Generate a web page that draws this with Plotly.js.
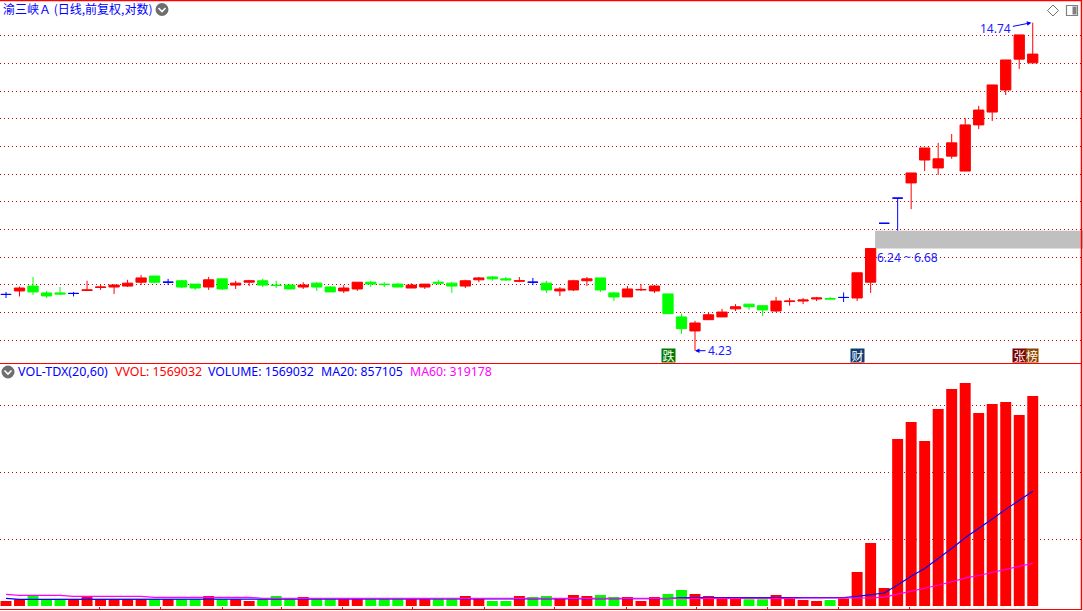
<!DOCTYPE html>
<html><head><meta charset="utf-8">
<style>html,body{margin:0;padding:0;background:#fff;overflow:hidden}#c{width:1083px;height:611px}</style>
<script src="https://cdn.plot.ly/plotly-3.0.1.min.js"></script></head>
<body><div id="c"></div>
<script>
const openP=[5.24,5.31,5.41,5.27,5.27,5.26,5.32,5.38,5.39,5.41,5.49,5.62,5.49,5.52,5.45,5.39,5.56,5.43,5.49,5.52,5.43,5.43,5.39,5.47,5.39,5.31,5.35,5.49,5.45,5.45,5.37,5.39,5.49,5.47,5.41,5.54,5.60,5.56,5.51,5.49,5.47,5.31,5.33,5.52,5.58,5.27,5.19,5.33,5.31,5.25,4.81,4.56,4.76,4.81,4.96,5.05,5.02,4.92,5.10,5.11,5.15,5.16,5.18,5.17,5.49,6.87,7.56,8.01,8.74,8.48,8.87,8.38,9.99,10.49,11.41,12.83,12.65];
const highP=[5.29,5.40,5.60,5.31,5.39,5.29,5.52,5.45,5.45,5.54,5.64,5.62,5.56,5.54,5.45,5.60,5.56,5.52,5.54,5.56,5.52,5.45,5.49,5.49,5.41,5.43,5.49,5.52,5.49,5.47,5.47,5.45,5.54,5.49,5.54,5.60,5.62,5.60,5.60,5.58,5.52,5.39,5.54,5.60,5.58,5.29,5.41,5.45,5.43,5.25,4.87,4.74,4.90,4.96,5.05,5.05,5.02,5.19,5.17,5.17,5.19,5.19,5.28,5.69,6.24,6.87,7.56,8.32,9.15,9.33,9.65,10.26,10.74,11.63,12.79,14.07,14.74];
const lowP=[5.17,5.20,5.23,5.17,5.23,5.20,5.31,5.33,5.25,5.39,5.43,5.47,5.43,5.37,5.33,5.33,5.33,5.35,5.41,5.39,5.37,5.35,5.35,5.31,5.29,5.27,5.31,5.39,5.39,5.39,5.37,5.35,5.43,5.27,5.37,5.49,5.52,5.52,5.49,5.43,5.27,5.21,5.31,5.41,5.29,5.11,5.19,5.31,5.27,4.87,4.51,4.23,4.76,4.81,4.92,4.94,4.83,4.90,5.02,5.05,5.11,5.15,5.09,5.11,5.27,6.87,6.68,7.25,8.38,8.26,8.78,8.38,9.83,10.14,11.19,12.36,12.65];
const closeP=[5.24,5.37,5.29,5.21,5.25,5.26,5.33,5.39,5.43,5.47,5.58,5.49,5.49,5.39,5.37,5.54,5.35,5.47,5.52,5.43,5.42,5.35,5.43,5.39,5.29,5.37,5.49,5.45,5.44,5.39,5.43,5.45,5.47,5.41,5.52,5.58,5.56,5.54,5.52,5.49,5.33,5.35,5.52,5.56,5.33,5.19,5.35,5.34,5.41,4.87,4.60,4.70,4.85,4.90,5.00,5.00,4.94,5.11,5.11,5.13,5.17,5.15,5.18,5.69,6.24,6.87,7.56,8.32,9.15,8.78,9.33,9.99,10.57,11.63,12.79,14.07,13.08];
const volume=[37000,50000,75000,50000,50000,50000,67000,50000,50000,50000,50000,50000,50000,50000,50000,75000,50000,50000,37000,50000,75000,50000,67000,50000,50000,50000,50000,50000,50000,50000,50000,50000,50000,50000,75000,55000,37000,37000,75000,67000,75000,52000,82000,75000,82000,67000,67000,37000,67000,90000,120000,90000,75000,55000,55000,50000,50000,82000,55000,45000,37000,45000,57000,254000,471000,134000,1248000,1375000,1233000,1472000,1621000,1666000,1442000,1509000,1524000,1427000,1569032];
const ma20=[57000,50000,50000,50000,50000,50000,50000,50000,50000,50000,50000,50000,50000,50000,50000,50000,50000,50000,50000,50000,50000,50000,50000,50000,50000,50000,50000,50000,50000,50000,50000,50000,50000,50000,50000,50000,52000,52000,52000,52000,52000,55000,55000,55000,55000,55000,55000,55000,55000,55000,62000,62000,62000,62000,62000,62000,62000,62000,62000,62000,62000,62000,62000,72000,87000,97000,157000,222000,280000,352000,430000,510000,578000,650000,722000,790000,857105];
const ma60=[87000,80000,80000,80000,80000,72000,72000,72000,72000,72000,72000,65000,65000,65000,65000,65000,65000,65000,65000,57000,57000,57000,57000,57000,57000,57000,57000,57000,57000,57000,57000,57000,57000,57000,57000,57000,52000,52000,52000,52000,52000,55000,55000,55000,55000,55000,55000,55000,55000,55000,55000,57000,57000,57000,57000,57000,57000,57000,57000,60000,60000,60000,60000,60000,60000,67000,88000,111000,131000,155000,181000,208000,228000,250000,275000,297000,319178];
const priceGrid=[14.05,12.63,11.35,10.24,9.21,8.28,7.47,6.71,6.04,5.45,4.90,4.40];
const volumeGrid=[500000,1000000,1500000];
const monthTicks=[6.9,11.4,16,20.4,24.9,30.1,35.4,40.6,45.9,51.1,56.4,61.6,66.9];
const titleText='渝三峡Ａ (日线,前复权,对数)';

const W=1083,H=611,RED='#ff0000',GREEN='#00ff00',BLUE='#0000ff',MAG='#ff00ff',TXT='#1c1cff',GRID='#c80000';
const idx=openP.map((_,i)=>i);
const px=x=>x/W, py=y=>1-y/H;
function candle(filter,color){
  const s=idx.filter(filter);
  return {type:'candlestick',x:s,open:s.map(i=>openP[i]),high:s.map(i=>highP[i]),low:s.map(i=>lowP[i]),close:s.map(i=>closeP[i]),
    xaxis:'x',yaxis:'y',hoverinfo:'skip',showlegend:false,
    increasing:{line:{color:color,width:1},fillcolor:color},decreasing:{line:{color:color,width:1},fillcolor:color}};
}
const volColor=idx.map(i=>closeP[i]>openP[i]?RED:closeP[i]<openP[i]?GREEN:(i===0||closeP[i]>=closeP[i-1])?RED:GREEN);
const traces=[
  candle(i=>closeP[i]>openP[i],RED),
  candle(i=>closeP[i]<openP[i],GREEN),
  candle(i=>closeP[i]===openP[i],BLUE),
  {type:'bar',x:idx,y:volume,width:0.81,marker:{color:volColor,line:{width:0}},xaxis:'x2',yaxis:'y2',hoverinfo:'skip',showlegend:false},
  {type:'scatter',mode:'lines',x:idx,y:ma20,line:{color:BLUE,width:1.2},xaxis:'x2',yaxis:'y2',hoverinfo:'skip',showlegend:false},
  {type:'scatter',mode:'lines',x:idx,y:ma60,line:{color:MAG,width:1.2},xaxis:'x2',yaxis:'y2',hoverinfo:'skip',showlegend:false}
];
const xr=[-0.444,79.72];
function txt(x,y,text,color,anchor,size,font){return {xref:'paper',yref:'paper',x:px(x),y:py(y),text:text,showarrow:false,xanchor:anchor||'left',yanchor:'middle',
  font:{family:font||'"Noto Sans","Noto Sans CJK SC",sans-serif',size:size||12,color:color},borderpad:0,borderwidth:0};}
function tag(x,y,w,text,bg){return {xref:'paper',yref:'paper',x:px(x),y:py(y),text:text,showarrow:false,xanchor:'left',yanchor:'middle',width:w,height:13,bgcolor:bg,borderpad:0,
  font:{family:'"Noto Sans CJK SC"',size:12,color:'#ffffff'},align:'center'};}
function line(x0,y0,x1,y1,c,w){return {type:'line',xref:'paper',yref:'paper',x0:px(x0),y0:py(y0),x1:px(x1),y1:py(y1),line:{color:c,width:w||1}};}
function chevIcon(cx,cy){return [
  {type:'circle',xref:'paper',yref:'paper',x0:px(cx-6.5),x1:px(cx+6.5),y0:py(cy+6.5),y1:py(cy-6.5),fillcolor:'#6e6e6e',line:{width:0}},
  {type:'path',xref:'paper',yref:'paper',path:`M ${px(cx-3.5)} ${py(cy-1.5)} L ${px(cx)} ${py(cy+2)} L ${px(cx+3.5)} ${py(cy-1.5)}`,line:{color:'#ffffff',width:1.6}}
];}
const shapes=[
  {type:'rect',xref:'x',yref:'y',x0:64.33,x1:xr[1],y0:6.24,y1:6.68,fillcolor:'#c0c0c0',line:{width:0},layer:'below'},
  line(0,0.5,1082,0.5,RED,1.5),
  line(0,363.5,1082,363.5,RED,1),
  line(0,609.5,1082,609.5,RED,1),
  line(1081.5,0,1081.5,610,RED,1.5),
  ...chevIcon(162,9.5),
  ...chevIcon(8,372),
  {type:'path',xref:'paper',yref:'paper',path:`M ${px(1053)} ${py(5)} L ${px(1058.5)} ${py(10.5)} L ${px(1053)} ${py(16)} L ${px(1047.5)} ${py(10.5)} Z`,line:{color:'#707070',width:1},fillcolor:'rgba(0,0,0,0)'},
  {type:'rect',xref:'paper',yref:'paper',x0:px(1066.5),x1:px(1077.5),y0:py(15.5),y1:py(5.5),line:{color:'#808080',width:1.2},fillcolor:'#ffffff'},
  {type:'rect',xref:'paper',yref:'paper',x0:px(1072.5),x1:px(1076.5),y0:py(14.5),y1:py(6.5),line:{width:0},fillcolor:'#808080'}
];
const arrow={text:'',showarrow:true,arrowhead:2,arrowsize:0.9,arrowwidth:1,arrowcolor:BLUE,standoff:0,startstandoff:0,axref:'pixel',ayref:'pixel'};
const iMax=highP.indexOf(Math.max(...highP)), iMin=lowP.indexOf(Math.min(...lowP));
const annotations=[
  txt(3,8.5,titleText,BLUE,'left',12,'"Noto Sans CJK SC"'),
  txt(18,371.5,'VOL-TDX(20,60)',BLUE,'left',12.5),
  txt(115,371.5,'VVOL: 1569032',RED,'left',12.4),
  txt(208,371.5,'VOLUME: 1569032',BLUE,'left',12.3),
  txt(321,371.5,'MA20: 857105',BLUE,'left',12.3),
  txt(410,371.5,'MA60: 319178',MAG,'left',12.3),
  txt(979.5,29,'14.74',TXT),
  txt(708,350.5,'4.23',TXT),
  txt(877,257.5,'6.24 ~ 6.68',TXT),
  {...arrow,xref:'x',yref:'y',x:iMax-0.1,y:Math.log10(highP[iMax]),ax:-20,ay:4},
  {...arrow,xref:'x',yref:'y',x:iMin,y:Math.log10(lowP[iMin]),ax:12,ay:0},
  tag(660.5,355.5,13,'跌','#007a00'),
  tag(849.5,355.5,13,'财','#0f3d6e'),
  tag(1011.5,355.5,13,'张','#7b0000'),
  tag(1024.5,355.5,12,'榜','#8b4500')
];
const layout={
  width:W,height:H,margin:{l:0,r:0,t:0,b:0,pad:0},paper_bgcolor:'#fff',plot_bgcolor:'#fff',showlegend:false,
  boxmode:'overlay',boxgap:0.24,boxgroupgap:0,barmode:'overlay',
  xaxis:{type:'linear',domain:[0,1],range:xr,anchor:'y',showgrid:false,zeroline:false,showticklabels:false,ticks:'',rangeslider:{visible:false},fixedrange:true},
  yaxis:{type:'log',domain:[(H-363)/H,1],range:[0.606,1.206],anchor:'x',tickmode:'array',tickvals:priceGrid,showticklabels:false,ticks:'',showgrid:true,gridcolor:GRID,gridwidth:1,griddash:'1px,3px',zeroline:false,fixedrange:true},
  xaxis2:{type:'linear',domain:[0,1],range:xr,anchor:'y2',showgrid:false,zeroline:false,showticklabels:false,tickmode:'array',tickvals:monthTicks,ticks:'inside',ticklen:3,tickcolor:RED,tickwidth:1,fixedrange:true},
  yaxis2:{type:'linear',domain:[(H-609.5)/H,(H-364)/H],range:[-26000,1808000],anchor:'x2',tickmode:'array',tickvals:volumeGrid,showticklabels:false,ticks:'',showgrid:true,gridcolor:GRID,gridwidth:1,griddash:'1px,3px',zeroline:false,fixedrange:true},
  shapes:shapes,annotations:annotations
};
Plotly.newPlot('c',traces,layout,{displayModeBar:false,staticPlot:true});
</script></body></html>
